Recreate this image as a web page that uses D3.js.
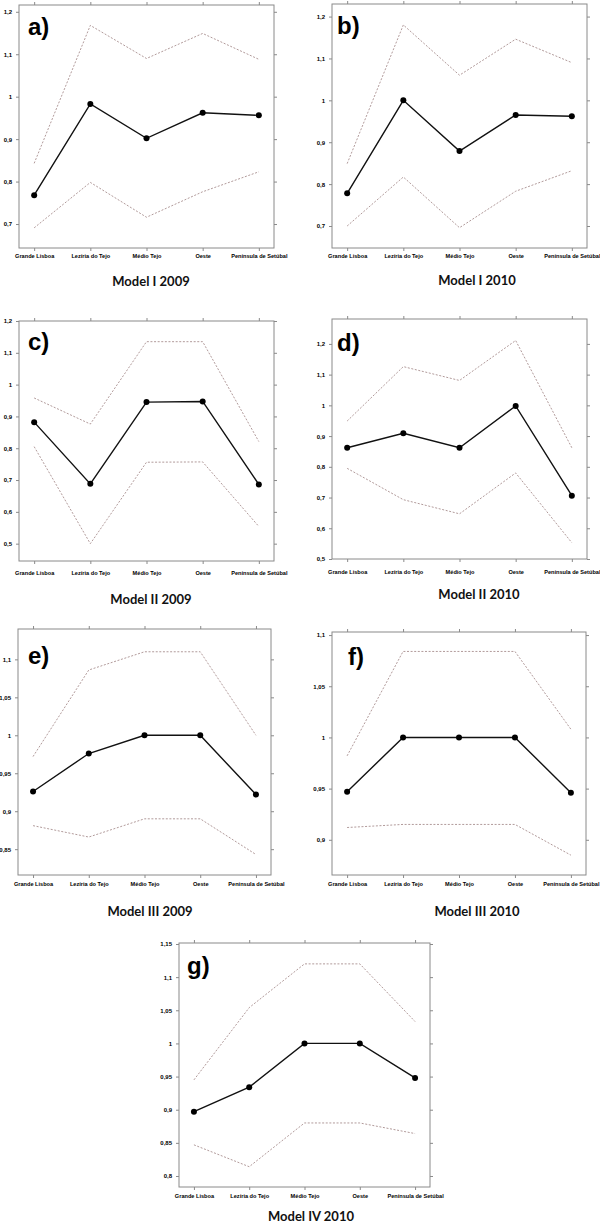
<!DOCTYPE html>
<html>
<head>
<meta charset="utf-8">
<script src="https://cdn.jsdelivr.net/npm/d3@7"></script>
<style>
  html, body { margin: 0; padding: 0; background: #fff; }
  svg { display: block; }
</style>
</head>
<body>
<svg id="chart" width="600" height="1224"></svg>
<script>
// ---------- DATA ----------
const categories = ["Grande Lisboa", "Lezíria do Tejo", "Médio Tejo", "Oeste", "Península de Setúbal"];

const panelLetters = ["a)", "b)", "c)", "d)", "e)", "f)", "g)"];
const panelTitles = ["Model I 2009", "Model I 2010", "Model II 2009", "Model II 2010",
                     "Model III 2009", "Model III 2010", "Model IV 2010"];

const meanA  = [0.768, 0.983, 0.902, 0.962, 0.956];
const upperA = [0.843, 1.168, 1.090, 1.149, 1.088];
const lowerA = [0.691, 0.798, 0.716, 0.776, 0.823];

const meanB  = [0.778, 1.000, 0.879, 0.965, 0.962];
const upperB = [0.849, 1.180, 1.060, 1.146, 1.090];
const lowerB = [0.700, 0.817, 0.696, 0.783, 0.832];

const meanC  = [0.882, 0.688, 0.945, 0.947, 0.686];
const upperC = [0.958, 0.876, 1.135, 1.135, 0.821];
const lowerC = [0.805, 0.500, 0.756, 0.757, 0.554];

const meanD  = [0.862, 0.909, 0.862, 0.998, 0.706];
const upperD = [0.949, 1.126, 1.081, 1.211, 0.862];
const lowerD = [0.795, 0.693, 0.647, 0.780, 0.553];

const meanE  = [0.926, 0.976, 1.000, 1.000, 0.922];
const upperE = [0.972, 1.086, 1.110, 1.110, 1.000];
const lowerE = [0.881, 0.866, 0.890, 0.890, 0.843];

const meanF  = [0.947, 1.000, 1.000, 1.000, 0.946];
const upperF = [0.982, 1.084, 1.084, 1.084, 1.008];
const lowerF = [0.912, 0.915, 0.915, 0.915, 0.885];

const meanG  = [0.897, 0.934, 1.000, 1.000, 0.948];
const upperG = [0.945, 1.054, 1.120, 1.120, 1.033];
const lowerG = [0.847, 0.814, 0.880, 0.880, 0.864];

const ticksAB = [0.7, 0.8, 0.9, 1, 1.1, 1.2];
const ticksCD = [0.5, 0.6, 0.7, 0.8, 0.9, 1, 1.1, 1.2];
const ticksE  = [0.85, 0.9, 0.95, 1, 1.05, 1.1];
const ticksF  = [0.9, 0.95, 1, 1.05, 1.1];
const ticksG  = [0.8, 0.85, 0.9, 0.95, 1, 1.05, 1.1, 1.15];

const yDomains = [
  [0.6435, 1.216], [0.6475, 1.23], [0.4455, 1.2], [0.5, 1.281],
  [0.816, 1.14], [0.8656, 1.103], [0.7834, 1.1515]
];

// ---------- LAYOUT ----------
const layout = [
  {L: 19,  R: 274, T: 5,   B: 248,  catOff: 12, letterX: 28,  letterDy: 30, titleX: 151, titleY: 286},
  {L: 332, R: 587, T: 4,   B: 248,  catOff: 12, letterX: 337, letterDy: 30, titleX: 477, titleY: 285},
  {L: 19,  R: 274, T: 321, B: 561,  catOff: 16, letterX: 28,  letterDy: 29, titleX: 151, titleY: 604},
  {L: 332, R: 587, T: 319, B: 559,  catOff: 17, letterX: 337, letterDy: 32, titleX: 479, titleY: 599},
  {L: 18,  R: 271, T: 629, B: 875,  catOff: 13, letterX: 28,  letterDy: 35, titleX: 150, titleY: 916},
  {L: 332, R: 586, T: 632, B: 875,  catOff: 13, letterX: 348, letterDy: 33, titleX: 477, titleY: 916},
  {L: 179, R: 430, T: 943, B: 1187, catOff: 13, letterX: 187, letterDy: 31, titleX: 311, titleY: 1221}
];

const panels = [
  {mean: meanA, upper: upperA, lower: lowerA, ticks: ticksAB},
  {mean: meanB, upper: upperB, lower: lowerB, ticks: ticksAB},
  {mean: meanC, upper: upperC, lower: lowerC, ticks: ticksCD},
  {mean: meanD, upper: upperD, lower: lowerD, ticks: ticksCD},
  {mean: meanE, upper: upperE, lower: lowerE, ticks: ticksE},
  {mean: meanF, upper: upperF, lower: lowerF, ticks: ticksF},
  {mean: meanG, upper: upperG, lower: lowerG, ticks: ticksG}
];

const svg = d3.select("#chart");
const smallFont = "'Liberation Sans Narrow', 'Arial Narrow', 'Liberation Sans', Arial, sans-serif";
const boxColor = "#8a8a8a";
const ciColor = "#a88f8f";
const fmt = v => String(+v.toFixed(3)).replace(".", ",");

panels.forEach((p, i) => {
  const lay = layout[i];
  const g = svg.append("g");
  const x = d3.scalePoint().domain(categories).range([lay.L, lay.R]).padding(0.27);
  const y = d3.scaleLinear().domain(yDomains[i]).range([lay.B, lay.T]);

  // frame
  g.append("rect")
    .attr("x", lay.L).attr("y", lay.T)
    .attr("width", lay.R - lay.L).attr("height", lay.B - lay.T)
    .attr("fill", "none").attr("stroke", boxColor).attr("stroke-width", 1);

  // axes
  const styleAxis = (sel, size) => {
    sel.select(".domain").remove();
    sel.selectAll(".tick line").attr("stroke", boxColor);
    sel.selectAll(".tick text")
      .attr("fill", "#000")
      .style("font-family", smallFont)
      .style("font-weight", "bold")
      .style("font-size", size || "6px");
  };

  g.append("g").attr("transform", `translate(${lay.L},0)`)
    .call(d3.axisLeft(y).tickValues(p.ticks).tickSize(3).tickPadding(4).tickFormat(fmt))
    .call(styleAxis);
  g.append("g").attr("transform", `translate(${lay.R},0)`)
    .call(d3.axisRight(y).tickValues(p.ticks).tickSize(3).tickFormat(""))
    .call(styleAxis);
  g.append("g").attr("transform", `translate(0,${lay.T})`)
    .call(d3.axisTop(x).tickSize(3).tickFormat(""))
    .call(styleAxis);
  const bottom = g.append("g").attr("transform", `translate(0,${lay.B})`)
    .call(d3.axisBottom(x).tickSize(3).tickPadding(lay.catOff - 9))
    .call(styleAxis, "5.6px");
  bottom.selectAll(".tick text").attr("dy", "0.71em");

  // CI dotted lines
  const line = d3.line().x((d, j) => x(categories[j])).y(d => y(d));
  [p.upper, p.lower].forEach(arr => {
    g.append("path").datum(arr)
      .attr("d", line)
      .attr("fill", "none")
      .attr("stroke", ciColor)
      .attr("stroke-width", 0.9)
      .attr("stroke-dasharray", "2,1.6");
  });

  // mean line and points
  g.append("path").datum(p.mean)
    .attr("d", line)
    .attr("fill", "none")
    .attr("stroke", "#111")
    .attr("stroke-width", 1.4);
  g.selectAll("circle.pt").data(p.mean).enter().append("circle")
    .attr("class", "pt")
    .attr("cx", (d, j) => x(categories[j]))
    .attr("cy", d => y(d))
    .attr("r", 3)
    .attr("fill", "#000");

  // panel letter
  g.append("text")
    .attr("x", lay.letterX).attr("y", lay.T + lay.letterDy)
    .style("font-family", "'Liberation Sans', Arial, sans-serif")
    .style("font-weight", "bold")
    .style("font-size", "24px")
    .attr("fill", "#000")
    .text(panelLetters[i]);

  // title
  svg.append("text")
    .attr("x", lay.titleX).attr("y", lay.titleY)
    .attr("text-anchor", "middle")
    .style("font-family", "Lato, 'Open Sans', sans-serif")
    .style("font-weight", "bold")
    .style("font-size", "13px")
    .attr("fill", "#111")
    .text(panelTitles[i]);
});
</script>
</body>
</html>
